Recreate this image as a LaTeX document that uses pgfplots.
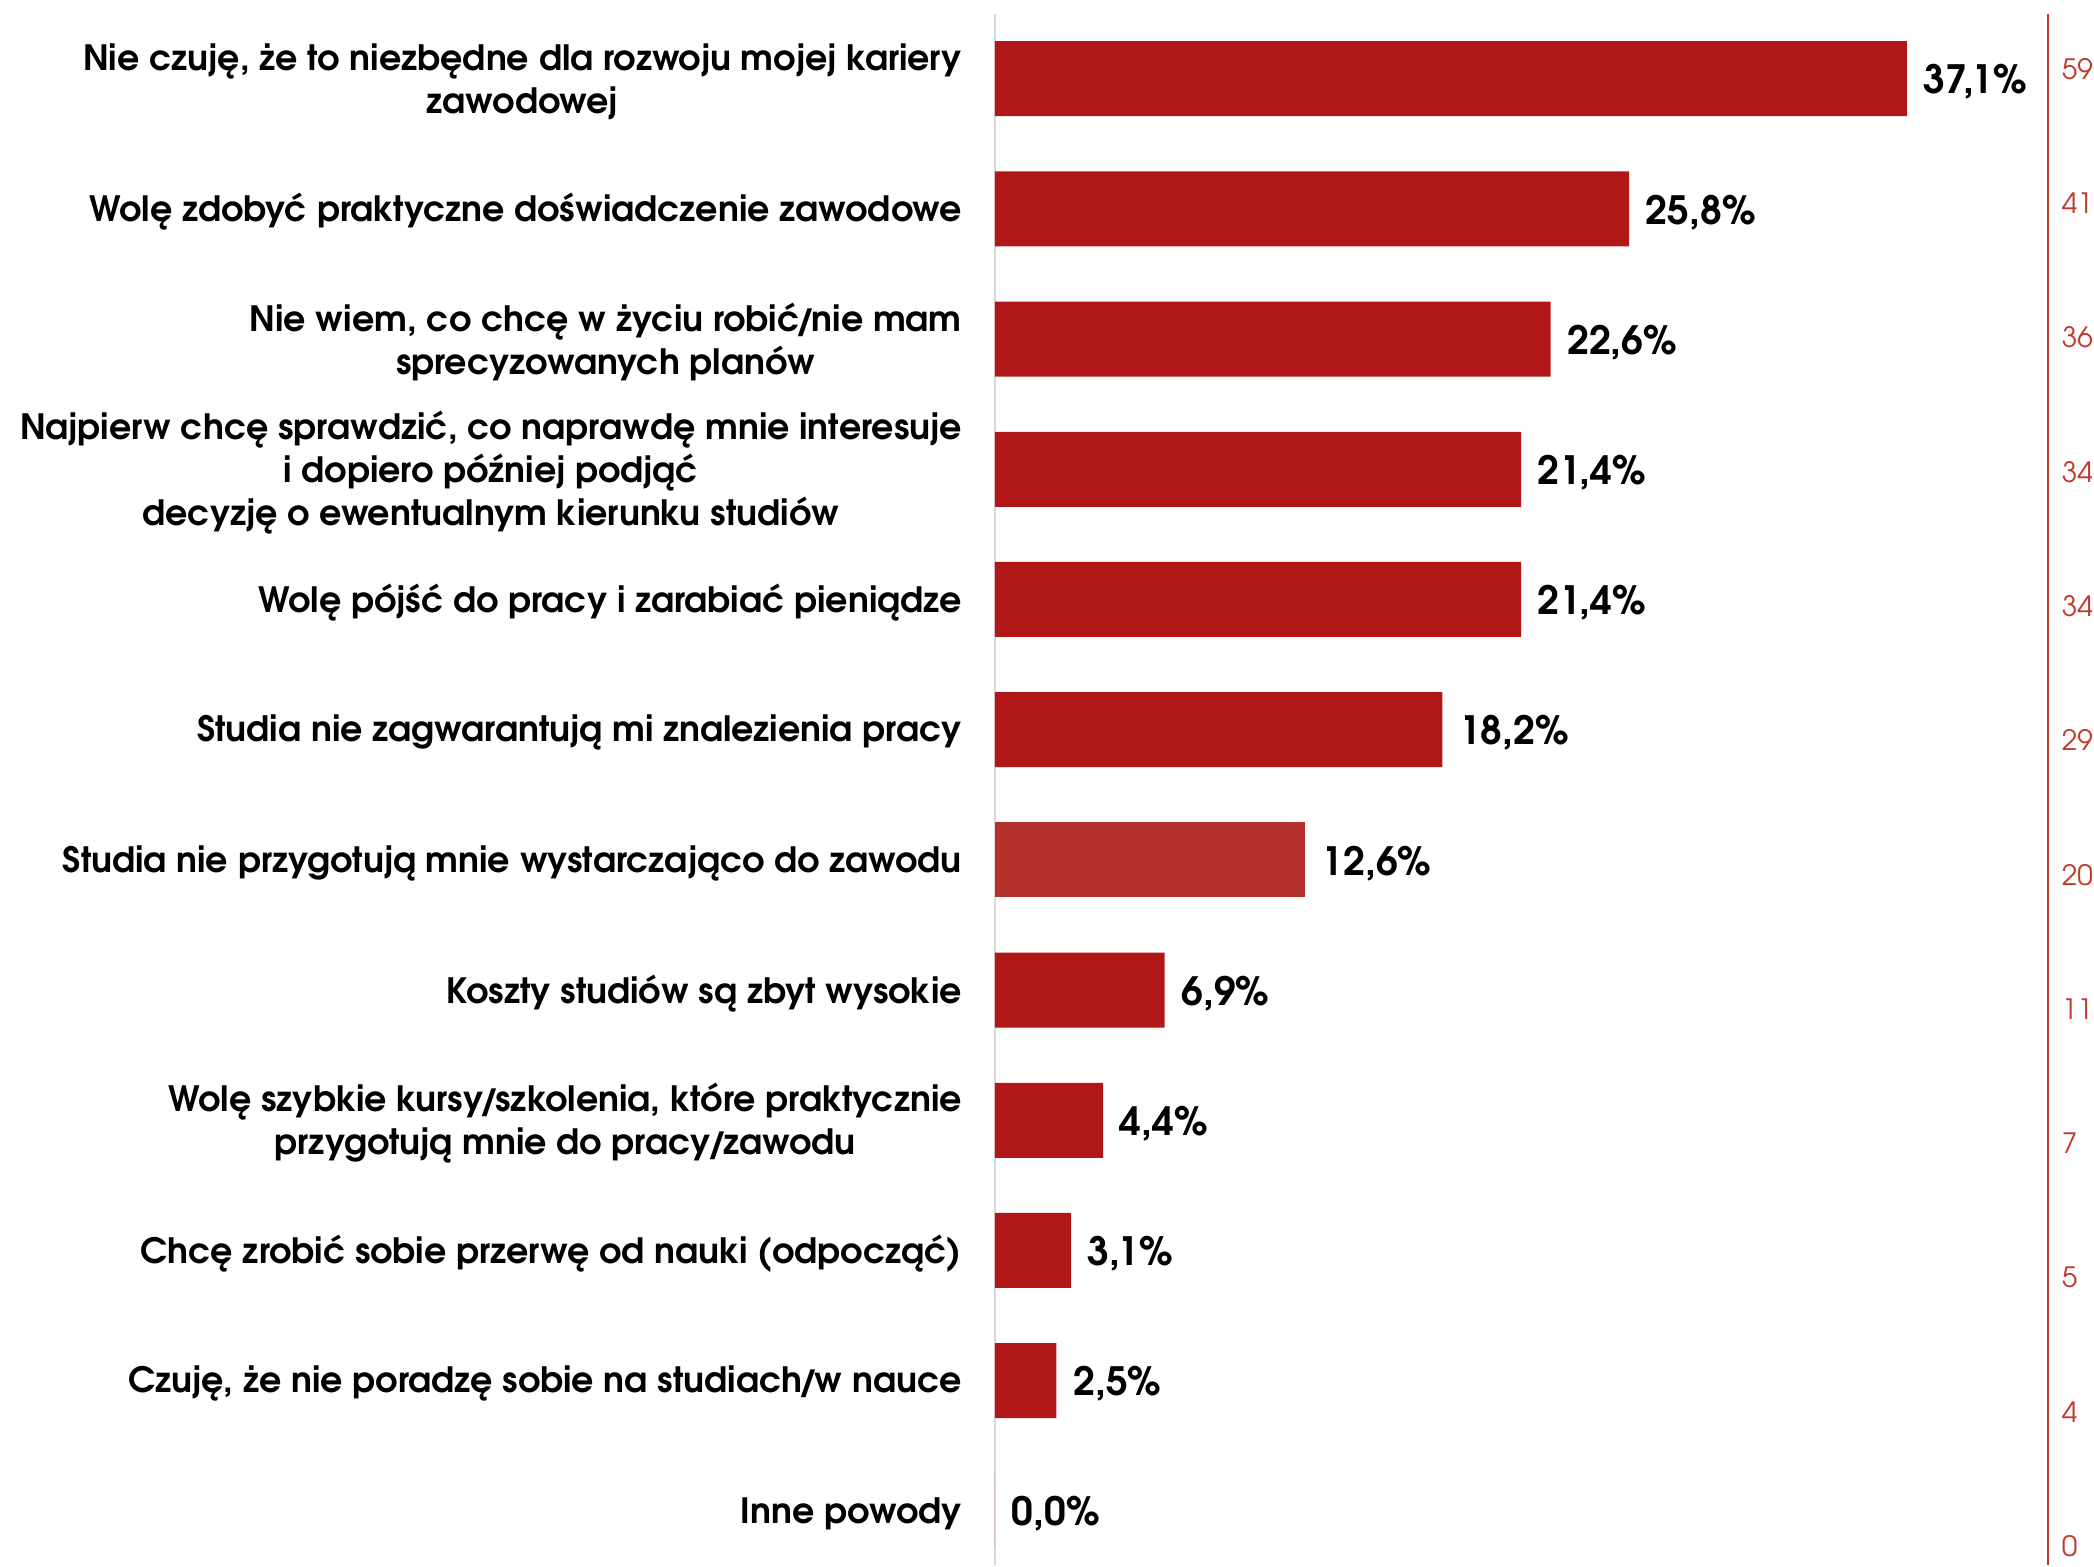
\documentclass[border=0pt]{standalone}
\usepackage{pgfplots}
\pgfplotsset{compat=1.18}
\usepackage{fontspec}
\setmainfont{TeX Gyre Adventor}
\definecolor{barred}{HTML}{B01716}
\definecolor{barred2}{HTML}{B3302D}
\definecolor{axred}{HTML}{C0392B}
\definecolor{axgray}{HTML}{D9D9D9}
\newcommand{\tsl}{\kern-0.11em/\kern-0.11em}
\begin{document}
\begin{tikzpicture}
\path (-248.75pt,3.4pt) rectangle (274.75pt,-388.3pt);
\begin{axis}[
  at={(0pt,0pt)}, anchor=north west,
  scale only axis, width=263.25pt, height=387.8pt,
  xbar, bar width=18.75pt, bar shift=0pt,
  xmin=0, xmax=42.84, ymin=-0.5, ymax=11.415, y dir=reverse,
  axis x line=none, axis y line*=left,
  y axis line style={color=axgray, line width=0.6pt},
  ytick={0,...,11}, major tick length=0pt,
  yticklabels={
    {Nie czuję, że to niezbędne dla rozwoju mojej kariery\\zawodowej},
    {Wolę zdobyć praktyczne doświadczenie zawodowe},
    {Nie wiem, co chcę w życiu robić\tsl nie mam\\sprecyzowanych planów},
    {Najpierw chcę sprawdzić, co naprawdę mnie interesuje\\i dopiero później podjąć\\decyzję o ewentualnym kierunku studiów},
    {Wolę pójść do pracy i zarabiać pieniądze},
    {Studia nie zagwarantują mi znalezienia pracy},
    {Studia nie przygotują mnie wystarczająco do zawodu},
    {Koszty studiów są zbyt wysokie},
    {Wolę szybkie kursy\tsl szkolenia, które praktycznie\\przygotują mnie do pracy\tsl zawodu},
    {Chcę zrobić sobie przerwę od nauki (odpocząć)},
    {Czuję, że nie poradzę sobie na studiach\tsl w nauce},
    {Inne powody}},
  yticklabel style={align=center, anchor=east, inner sep=0pt, xshift=-8.1pt, yshift=-0.8pt,
    font=\fontsize{8.72}{10.7}\selectfont\bfseries, text=black},
  clip=false,
  point meta=x,
  nodes near coords={\pgfmathprintnumber[fixed,fixed zerofill,precision=1,use comma,assume math mode=true]{\pgfplotspointmeta}\%},
  nodes near coords style={anchor=west, inner sep=0pt, xshift=4pt, yshift=-0.8pt,
    font=\fontsize{9.75}{12}\selectfont\bfseries, text=black},
]
\addplot[fill=barred, draw=none] coordinates {
  (37.1,0) (25.8,1) (22.6,2) (21.4,3) (21.4,4) (18.2,5)
  (6.9,7) (4.4,8) (3.1,9) (2.5,10) (0.0,11)};
\addplot[fill=barred2, draw=none] coordinates {(12.6,6)};
\end{axis}
\begin{axis}[
  at={(0pt,0pt)}, anchor=north west,
  scale only axis, width=263.25pt, height=387.8pt,
  xmin=0, xmax=42.84, ymin=-0.412, ymax=11.139, y dir=reverse,
  axis x line=none, axis y line*=right,
  y axis line style={color=axred, line width=0.5pt},
  ytick={0,...,11}, major tick length=0pt,
  yticklabels={59,41,36,34,34,29,20,11,7,5,4,0},
  yticklabel style={anchor=west, inner sep=0pt, xshift=3.25pt,
    font=\fontsize{7}{8}\selectfont, text=axred},
]
\addplot[draw=none] coordinates {(0,0)};
\end{axis}
\end{tikzpicture}
\end{document}
